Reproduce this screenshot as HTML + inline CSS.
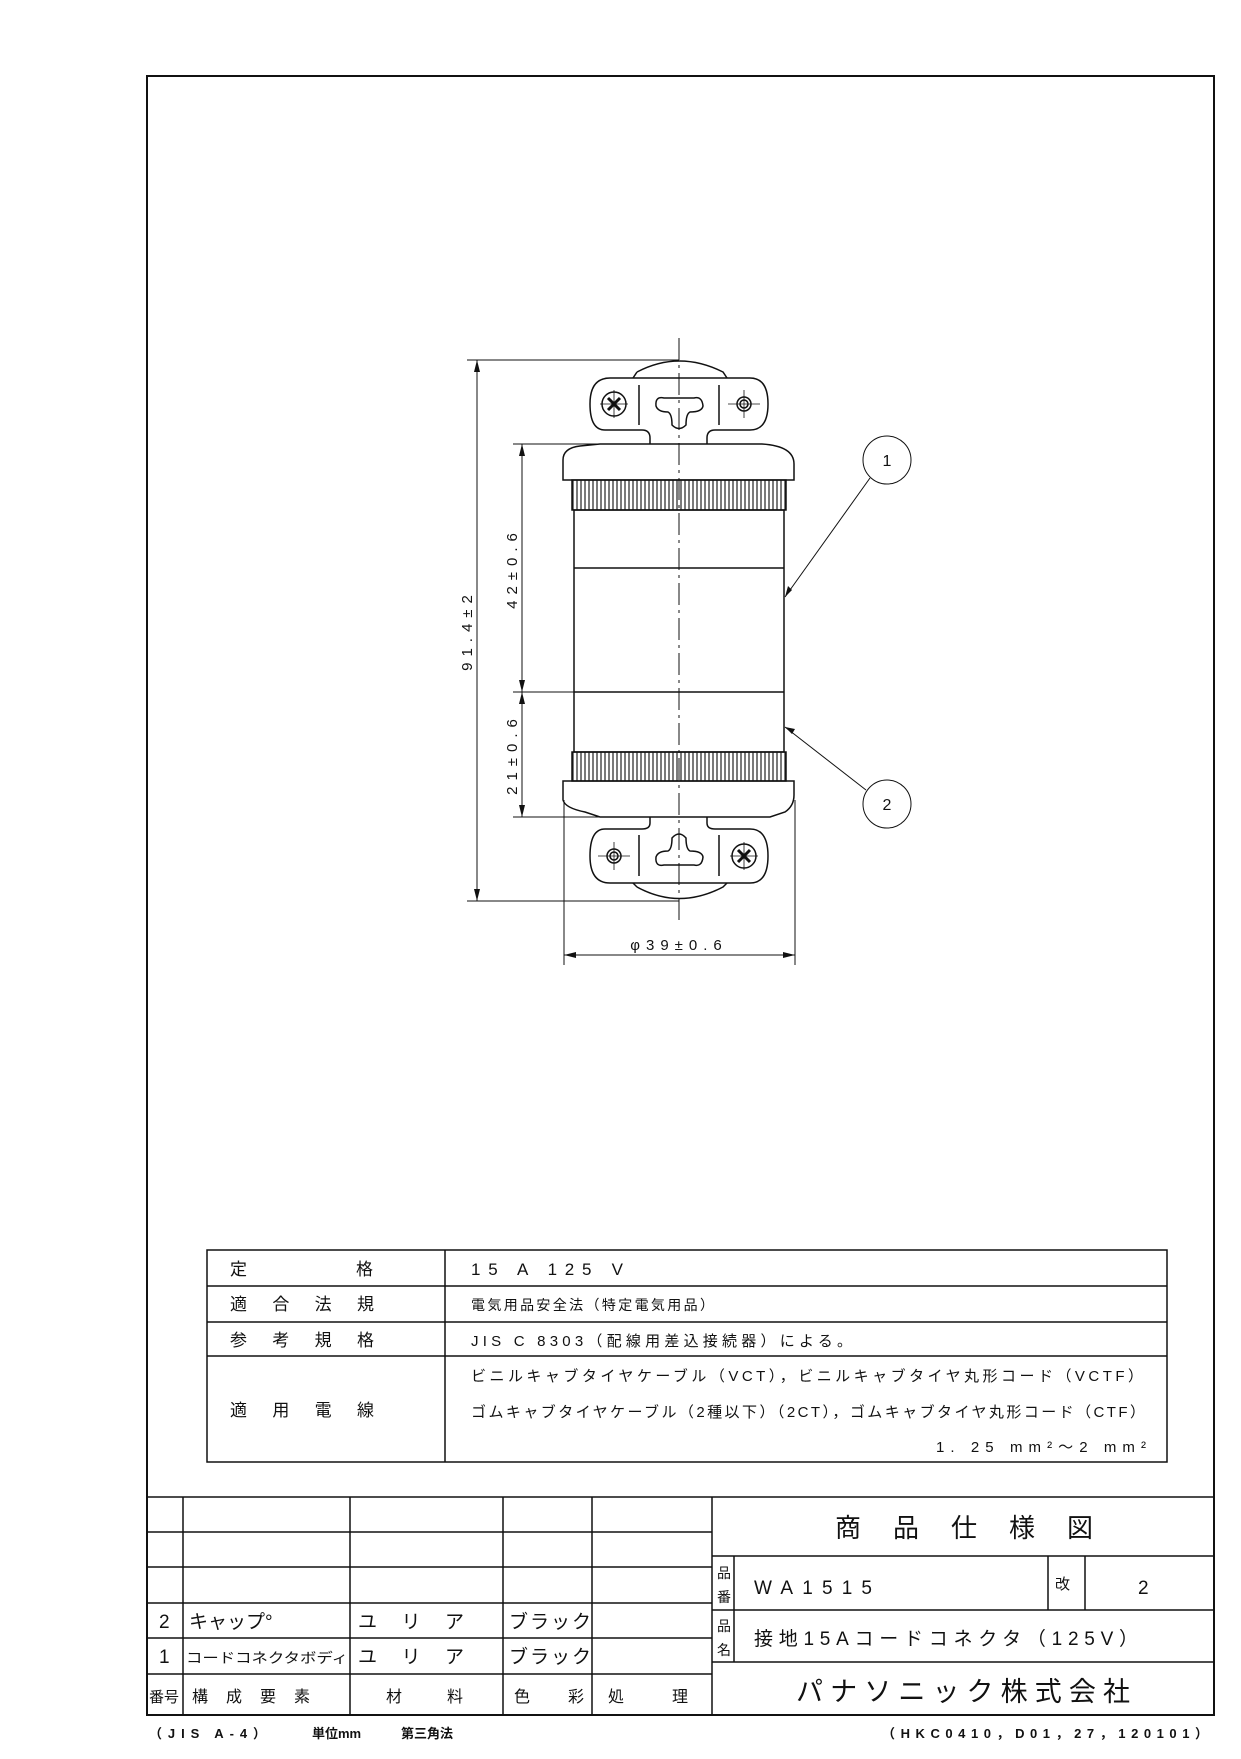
<!DOCTYPE html>
<html><head><meta charset="utf-8"><style>
html,body{margin:0;padding:0;background:#fff}
svg text{font-family:"Liberation Sans","Noto Sans CJK JP",sans-serif;fill:#111}
</style></head><body>
<svg width="1241" height="1754" viewBox="0 0 1241 1754" xmlns="http://www.w3.org/2000/svg">
<defs><pattern id="kn" width="4" height="10" patternUnits="userSpaceOnUse"><line x1="1" y1="0" x2="1" y2="10" stroke="#222" stroke-width="1.2"/></pattern></defs>
<g fill="none" stroke="#111" stroke-width="1.5">
<rect x="147" y="76" width="1067" height="1639" stroke-width="2"/>
<line x1="679" y1="338" x2="679" y2="925" stroke-width="1" stroke-dasharray="22,5,3,5"/>
<path d="M637,372 Q679,350 723,372 L727,378 M637,372 L633,378"/>
<path d="M650,444 L650,438 Q650,430 642,430 L605,430 Q590,430 590,404 Q590,378 610,378 L750,378 Q768,378 768,404 Q768,430 750,430 L715,430 Q707,430 707,438 L707,444"/>
<line x1="639" y1="385" x2="639" y2="425"/><line x1="719" y1="385" x2="719" y2="425"/>
<path d="M664,398 Q655,396 656,406 Q658,412 668,412 Q672,414 672,425 Q679,432 686,425 Q686,414 690,412 Q702,412 703,406 Q702,396 694,398 Z"/>
<circle cx="614" cy="404" r="12"/><path d="M608,398 L620,410 M620,398 L608,410" stroke-width="3"/>
<line x1="600" y1="404" x2="628" y2="404" stroke-width="0.8"/><line x1="614" y1="390" x2="614" y2="418" stroke-width="0.8"/>
<circle cx="744" cy="404" r="7"/><circle cx="744" cy="404" r="4"/>
<line x1="728" y1="404" x2="760" y2="404" stroke-width="0.8"/><line x1="744" y1="390" x2="744" y2="418" stroke-width="0.8"/>
<path d="M563,480 L563,460 Q563,448 580,446 L600,444 L762,444 Q794,446 794,464 L794,480 Z"/>
<rect x="572" y="480" width="214" height="30" fill="url(#kn)"/>
<rect x="574" y="510" width="210" height="242"/>
<line x1="574" y1="568" x2="784" y2="568"/><line x1="574" y1="692" x2="784" y2="692"/>
<rect x="572" y="752" width="214" height="29" fill="url(#kn)"/>
<path d="M563,781 L563,800 Q565,808 585,812 L600,817 L770,817 L785,812 Q794,806 794,795 L794,781 Z"/>
<path d="M650,817 L650,823 Q650,829 642,829 L605,829 Q590,829 590,856 Q590,883 610,883 L750,883 Q768,883 768,856 Q768,829 750,829 L715,829 Q707,829 707,823 L707,817"/>
<path d="M637,887 Q679,910 723,887 L727,883 M637,887 L633,883"/>
<line x1="639" y1="835" x2="639" y2="876"/><line x1="719" y1="835" x2="719" y2="876"/>
<path d="M664,865 Q655,867 656,857 Q658,851 668,851 Q672,849 672,838 Q679,830 686,838 Q686,849 690,851 Q702,851 703,857 Q702,867 694,865 Z"/>
<circle cx="614" cy="856" r="7"/><circle cx="614" cy="856" r="4"/>
<line x1="598" y1="856" x2="630" y2="856" stroke-width="0.8"/><line x1="614" y1="842" x2="614" y2="870" stroke-width="0.8"/>
<circle cx="744" cy="856" r="12"/><path d="M738,850 L750,862 M750,850 L738,862" stroke-width="3"/>
<line x1="730" y1="856" x2="758" y2="856" stroke-width="0.8"/><line x1="744" y1="842" x2="744" y2="870" stroke-width="0.8"/>
<g stroke-width="1">
<line x1="467" y1="360" x2="679" y2="360"/><line x1="467" y1="901" x2="679" y2="901"/>
<line x1="477" y1="360" x2="477" y2="901"/>
<line x1="513" y1="444" x2="600" y2="444"/><line x1="513" y1="692" x2="574" y2="692"/><line x1="513" y1="817" x2="600" y2="817"/>
<line x1="522" y1="444" x2="522" y2="817"/>
<line x1="564" y1="800" x2="564" y2="965"/><line x1="795" y1="800" x2="795" y2="965"/>
<line x1="564" y1="955" x2="795" y2="955"/>
<line x1="785" y1="597" x2="870" y2="478"/><line x1="785" y1="727" x2="866" y2="790"/>
</g>
<circle cx="887" cy="460" r="24" stroke-width="1"/><circle cx="887" cy="804" r="24" stroke-width="1"/>
</g>
<g fill="#111">
<path d="M477,360 l-3,12 l6,0 z M477,901 l-3,-12 l6,0 z M522,444 l-3,12 l6,0z M522,692 l-3,-12 l6,0z M522,692 l-3,12 l6,0z M522,817 l-3,-12 l6,0z M564,955 l12,-3 l0,6z M795,955 l-12,-3 l0,6z M785,597 l3,-11 l4,4z M785,727 l10,2 l-3,5z"/>
</g>
<text x="887" y="466" font-size="16" text-anchor="middle">1</text>
<text x="887" y="810" font-size="16" text-anchor="middle">2</text>
<text transform="translate(472,630) rotate(-90)" font-size="15" text-anchor="middle" letter-spacing="6">91.4±2</text>
<text transform="translate(517,568) rotate(-90)" font-size="15" text-anchor="middle" letter-spacing="6">42±0.6</text>
<text transform="translate(517,754) rotate(-90)" font-size="15" text-anchor="middle" letter-spacing="6">21±0.6</text>
<text x="679" y="950" font-size="15" text-anchor="middle" letter-spacing="6">φ39±0.6</text>
<!-- spec table -->
<g fill="none" stroke="#111" stroke-width="1.5">
<rect x="207" y="1250" width="960" height="212"/>
<line x1="207" y1="1286" x2="1167" y2="1286"/><line x1="207" y1="1322" x2="1167" y2="1322"/><line x1="207" y1="1356" x2="1167" y2="1356"/>
<line x1="445" y1="1250" x2="445" y2="1462"/>
</g>
<g font-size="17">
<text x="230" y="1275">定</text><text x="356" y="1275">格</text>
<text x="230" y="1310" textLength="144" lengthAdjust="spacing">適合法規</text>
<text x="230" y="1346" textLength="144" lengthAdjust="spacing">参考規格</text>
<text x="230" y="1416" textLength="144" lengthAdjust="spacing">適用電線</text>
<text x="471" y="1275" textLength="152" lengthAdjust="spacing">15 A 125 V</text>
<text x="471" y="1310" font-size="14" textLength="243" lengthAdjust="spacing">電気用品安全法（特定電気用品）</text>
<text x="471" y="1346" font-size="15" textLength="381" lengthAdjust="spacing">JIS C 8303（配線用差込接続器）による。</text>
<text x="471" y="1381" font-size="15" textLength="672" lengthAdjust="spacing">ビニルキャブタイヤケーブル（VCT），ビニルキャブタイヤ丸形コード（VCTF）</text>
<text x="471" y="1417" font-size="15" textLength="674" lengthAdjust="spacing">ゴムキャブタイヤケーブル（2種以下）（2CT），ゴムキャブタイヤ丸形コード（CTF）</text>
<text x="936" y="1452" font-size="15" textLength="210" lengthAdjust="spacing">1. 25 mm²～2 mm²</text>
</g>
<!-- title block -->
<g fill="none" stroke="#111" stroke-width="1.5">
<line x1="147" y1="1497" x2="1214" y2="1497"/>
<line x1="147" y1="1532" x2="712" y2="1532"/><line x1="147" y1="1567" x2="712" y2="1567"/><line x1="147" y1="1603" x2="712" y2="1603"/>
<line x1="147" y1="1638" x2="712" y2="1638"/><line x1="147" y1="1674" x2="712" y2="1674"/>
<line x1="183" y1="1497" x2="183" y2="1715"/><line x1="350" y1="1497" x2="350" y2="1715"/><line x1="503" y1="1497" x2="503" y2="1715"/><line x1="592" y1="1497" x2="592" y2="1715"/>
<line x1="712" y1="1497" x2="712" y2="1715"/>
<line x1="712" y1="1556" x2="1214" y2="1556"/><line x1="712" y1="1610" x2="1214" y2="1610"/><line x1="712" y1="1662" x2="1214" y2="1662"/>
<line x1="734" y1="1556" x2="734" y2="1662"/><line x1="1048" y1="1556" x2="1048" y2="1610"/><line x1="1085" y1="1556" x2="1085" y2="1610"/>
</g>
<g font-size="19">
<text x="159" y="1628">2</text><text x="189" y="1628">キャップ°</text>
<text x="159" y="1663">1</text><text x="186" y="1663" font-size="14" textLength="162" lengthAdjust="spacingAndGlyphs">コードコネクタボディ</text>
<text x="358" y="1628" textLength="106" lengthAdjust="spacing">ユリア</text><text x="358" y="1663" textLength="106" lengthAdjust="spacing">ユリア</text>
<text x="509" y="1628" letter-spacing="2">ブラック</text><text x="509" y="1663" letter-spacing="2">ブラック</text>
<text x="149" y="1702" font-size="15">番号</text>
<text x="192" y="1702" font-size="16" textLength="118" lengthAdjust="spacing">構成要素</text>
<text x="386" y="1702" font-size="16">材</text><text x="447" y="1702" font-size="16">料</text>
<text x="514" y="1702" font-size="16">色</text><text x="568" y="1702" font-size="16">彩</text>
<text x="608" y="1702" font-size="16">処</text><text x="672" y="1702" font-size="16">理</text>
<text x="835" y="1537" font-size="26" textLength="258" lengthAdjust="spacing">商品仕様図</text>
<text x="717" y="1578" font-size="14">品</text><text x="717" y="1602" font-size="14">番</text>
<text x="717" y="1631" font-size="14">品</text><text x="717" y="1655" font-size="14">名</text>
<text x="754" y="1594" textLength="118" lengthAdjust="spacing">WA1515</text>
<text x="1055" y="1589" font-size="15">改</text><text x="1138" y="1594">2</text>
<text x="754" y="1645" textLength="384" lengthAdjust="spacing">接地15Aコードコネクタ（125V）</text>
<text x="796" y="1701" font-size="27" textLength="334" lengthAdjust="spacing">パナソニック株式会社</text>
</g>
<g font-size="13" font-weight="bold">
<text x="149" y="1738" textLength="117" lengthAdjust="spacing">（JIS A-4）</text>
<text x="312" y="1738">単位mm</text><text x="401" y="1738">第三角法</text>
<text x="882" y="1738" textLength="326" lengthAdjust="spacing">（HKC0410，D01，27，120101）</text>
</g>
</svg>
</body></html>
